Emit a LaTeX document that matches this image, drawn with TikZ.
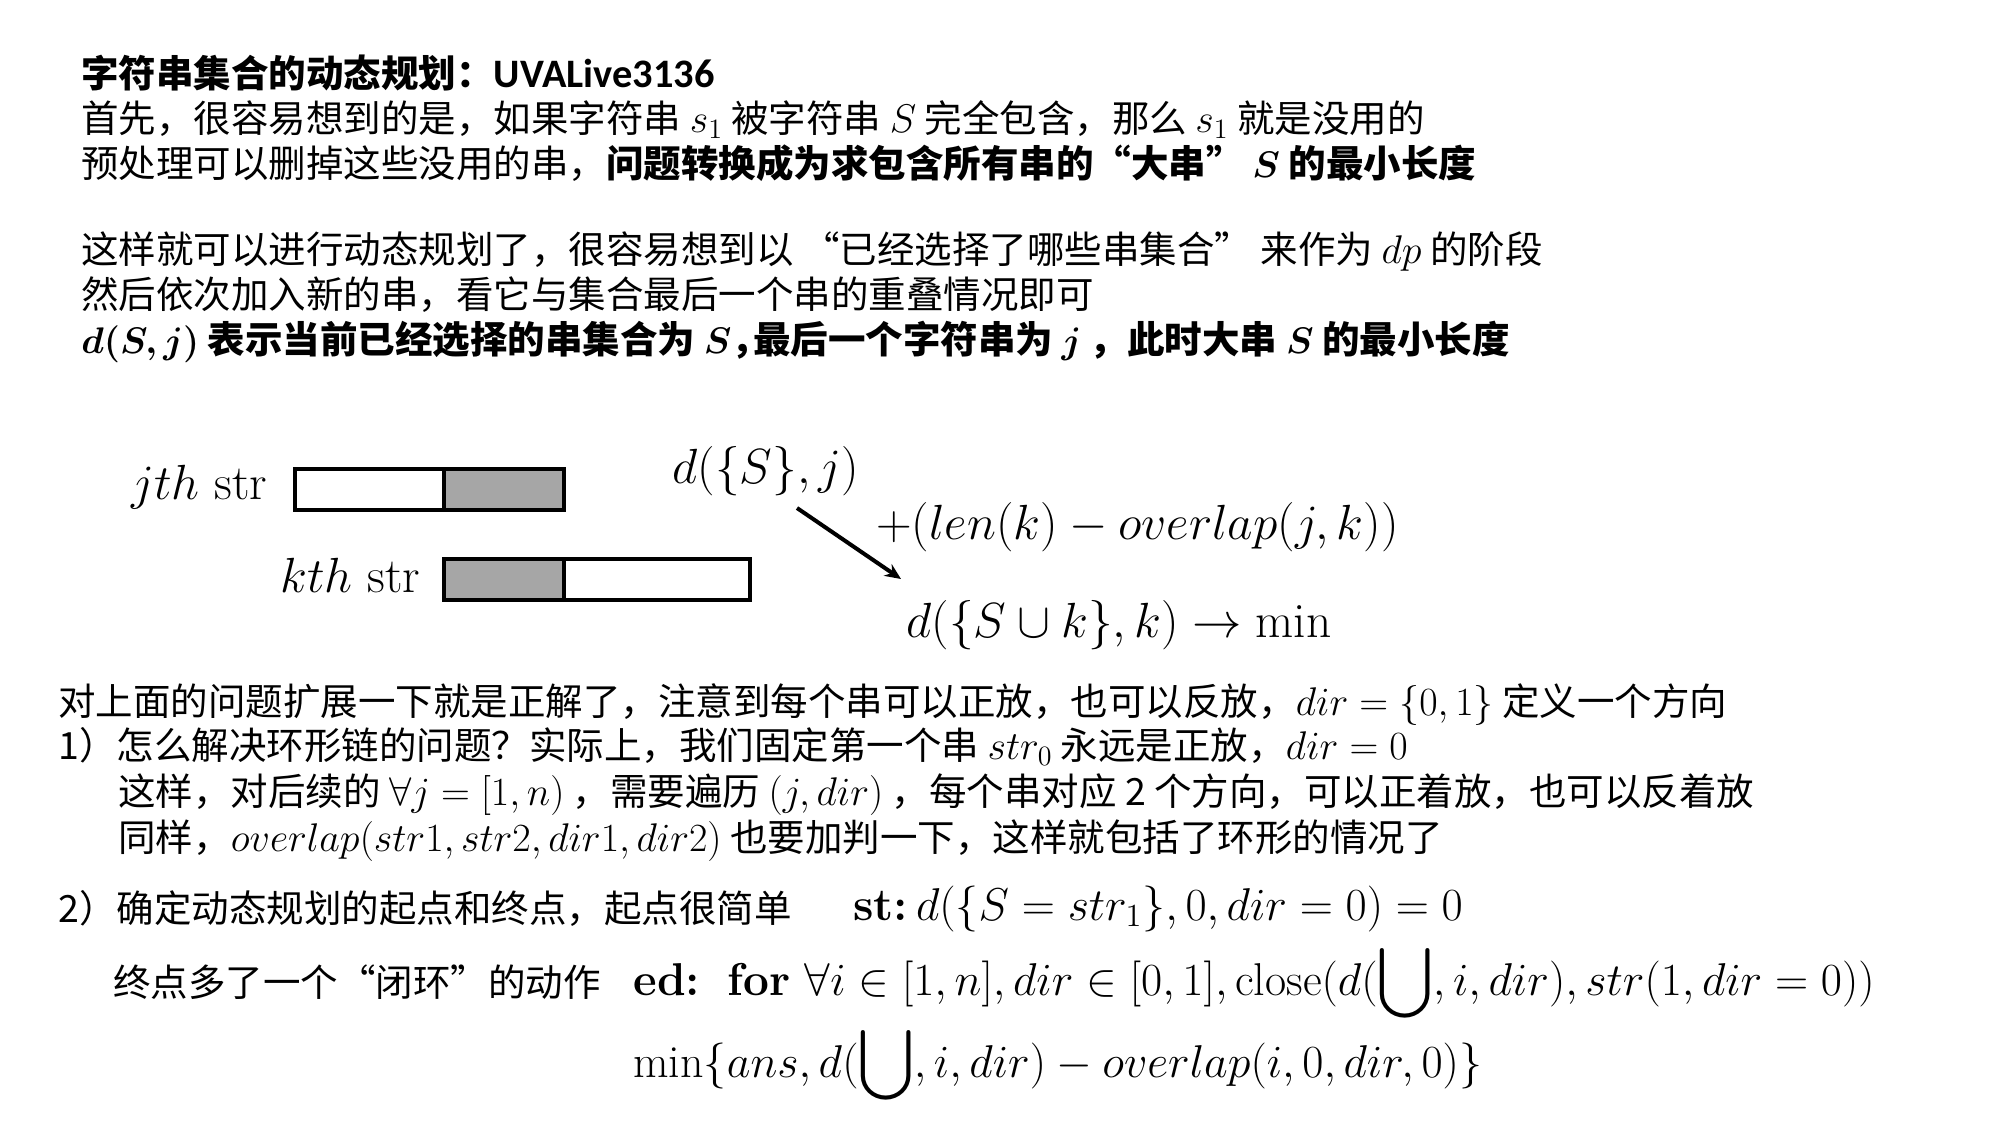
\RequirePackage{fix-cm}
\documentclass[tikz,border=0pt]{standalone}
\usepackage{amsmath,bm}
\usepackage{fontspec}
\newfontfamily\cjk{Noto Sans CJK SC}
\newfontfamily\latinb{Carlito}
\usetikzlibrary{arrows.meta}
\definecolor{boxgray}{RGB}{166,166,166}
\newcommand\im[1]{{\fontsize{20}{24}\selectfont$\smash{#1}$}}
\newcommand\imb[1]{{\fontsize{18.5}{22}\selectfont$\smash{\bm{#1}}$}}
\tikzset{
  cjktext/.style={anchor=base west, inner sep=0pt, font=\cjk\fontsize{18.75}{22}\selectfont},
  bigmath/.style={anchor=base west, inner sep=0pt, font=\fontsize{24.7}{29}\selectfont},
  lowmath/.style={anchor=base west, inner sep=0pt, font=\fontsize{23}{28}\selectfont},
  boxline/.style={line width=2pt, draw=black},
  flowarrow/.style={line width=2pt, -{Stealth[length=8pt,width=7pt]}}
}
\begin{document}
\begin{tikzpicture}[x=0.5pt,y=-0.5pt]
\useasboundingbox[fill=white] (0,0) rectangle (2000,1125);

% top text
\node[cjktext] (t1) at (81,87) {\bfseries 字符串集合的动态规划：{\latinb\fontsize{20.2}{24}\selectfont UVALive3136}};
\node[cjktext] (t2) at (81,132) {首先，很容易想到的是，如果字符串 \im{s_1} 被字符串 \im{S} 完全包含，那么 \im{s_1} 就是没用的};
\node[cjktext] (t3) at (81,177) {预处理可以删掉这些没用的串，{\bfseries 问题转换成为求包含所有串的“大串” \imb{S} 的最小长度}};
\node[cjktext] (t4) at (81,263) {这样就可以进行动态规划了，很容易想到以 “已经选择了哪些串集合” 来作为 \im{dp} 的阶段};
\node[cjktext] (t5) at (81,308) {然后依次加入新的串，看它与集合最后一个串的重叠情况即可};
\node[cjktext] (t6) at (81,353) {\bfseries \imb{d(S,j)} 表示当前已经选择的串集合为 \imb{S}，\kern-8pt 最后一个字符串为 \imb{j} ，此时大串 \imb{S} 的最小长度};

% diagram
\node[bigmath] (jlab) at (131,499) {$jth\ \mathrm{str}$};
\node[bigmath] (klab) at (280,592) {$kth\ \mathrm{str}$};
\draw[boxline, fill=white] (295,469) rectangle (444,510);
\draw[boxline, fill=boxgray] (444,469) rectangle (564,510);
\draw[boxline, fill=boxgray] (444,559) rectangle (564,600);
\draw[boxline, fill=white] (564,559) rectangle (750,600);

\node[bigmath] (dSj) at (672,483) {$d(\{S\},j)$};
\node[bigmath] (plus) at (876,539) {$+(len(k)-overlap(j,k))$};
\node[bigmath] (dSk) at (906,637) {$d(\{S\cup k\},k)\rightarrow\min$};
\coordinate (aS) at (797,508);
\coordinate (aE) at (901,579);
\draw[flowarrow] (aS) -- (aE);

% lower text
\node[cjktext] (b1) at (58,715) {对上面的问题扩展一下就是正解了，注意到每个串可以正放，也可以反放，\im{dir=\{0,1\}} 定义一个方向};
\node[cjktext] (b2) at (58,759) {1）怎么解决环形链的问题？实际上，我们固定第一个串 \im{str_0} 永远是正放，\im{dir=0}};
\node[cjktext] (b3) at (118,805) {这样，对后续的 \im{\forall j=[1,n)} ，需要遍历 \im{(j,dir)} ，每个串对应 2 个方向，可以正着放，也可以反着放};
\node[cjktext] (b4) at (118,851) {同样，\im{overlap(str1,str2,dir1,dir2)} 也要加判一下，这样就包括了环形的情况了};
\node[cjktext] (b5) at (58,922) {2）确定动态规划的起点和终点，起点很简单};
\node[lowmath] (st) at (853,920) {$\textbf{st:}\,d(\{S=str_1\},0,dir=0)=0$};
\node[cjktext] (b6) at (113,996) {终点多了一个“闭环”的动作};
\node[lowmath] (ed) at (633,995) {$\textbf{ed:}\ \ \textbf{for}\ \forall i\in[1,n],dir\in[0,1],\mathrm{close}(d(\displaystyle\bigcup,i,dir),str(1,dir=0))$};
\node[lowmath] (mn) at (633,1077) {$\min\{ans,d(\displaystyle\bigcup,i,dir)-overlap(i,0,dir,0)\}$};
\end{tikzpicture}
\end{document}
